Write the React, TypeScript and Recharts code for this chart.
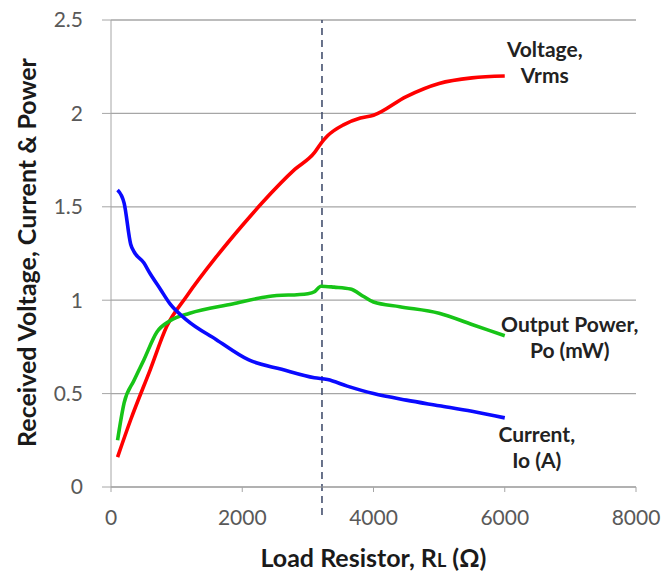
import React from 'react';
import { LineChart, Line, XAxis, YAxis, CartesianGrid, ReferenceLine, ReferenceDot, Label } from 'recharts';

// values (x = load resistor in ohms)
const voltageX = [100, 300, 600, 850, 1150, 1600, 2000, 2300, 2800, 3100, 3200, 3300, 3550, 3800, 4000, 4500, 5000, 5500, 6000];
const voltageY = [0.16, 0.36, 0.63, 0.86, 1.02, 1.23, 1.4, 1.52, 1.7, 1.79, 1.84, 1.88, 1.94, 1.975, 1.99, 2.09, 2.16, 2.19, 2.2];

const currentX = [100, 200, 300, 350, 500, 600, 750, 900, 1150, 1600, 2100, 2600, 3100, 3300, 3600, 4000, 4500, 5000, 5500, 6000];
const currentY = [1.59, 1.52, 1.3, 1.26, 1.2, 1.14, 1.06, 0.98, 0.895, 0.79, 0.68, 0.63, 0.585, 0.575, 0.54, 0.5, 0.465, 0.435, 0.405, 0.37];

const powerX = [100, 200, 350, 500, 700, 900, 1200, 1850, 2400, 3000, 3100, 3200, 3400, 3650, 3850, 4000, 4400, 5000, 5500, 6000];
const powerY = [0.25, 0.45, 0.57, 0.68, 0.83, 0.89, 0.93, 0.98, 1.02, 1.035, 1.045, 1.075, 1.07, 1.06, 1.02, 0.99, 0.965, 0.93, 0.87, 0.81];

const xTicks = [0, 2000, 4000, 6000, 8000];
const yTicks = [0, 0.5, 1, 1.5, 2, 2.5];
const markerX = 3215;

const zip = (xs: number[], ys: number[]) => xs.map((x, i) => ({ x, y: ys[i] }));
const voltage = zip(voltageX, voltageY);
const current = zip(currentX, currentY);
const power = zip(powerX, powerY);
const last = (d: { x: number; y: number }[]) => d[d.length - 1];

const FONT = 'Lato, "Open Sans", sans-serif';

// two-line annotation next to the end of a curve
const endNote = (lines: string[], dx: number, dy: number) => (props: any) => {
  const { viewBox } = props;
  const cx = viewBox.x + viewBox.width / 2 + dx;
  const cy = viewBox.y + viewBox.height / 2 + dy;
  return (
    <text x={cx} y={cy} textAnchor="middle" fontFamily={FONT} fontWeight={700} fontSize={21} fill="#222">
      {lines.map((l, i) => (
        <tspan key={i} x={cx} dy={i === 0 ? 0 : 26}>{l}</tspan>
      ))}
    </text>
  );
};

const App: React.FC = () => {
  return (
    <div style={{ position: 'absolute', left: 0, top: 0, width: 664, height: 575, background: '#fff' }}>
      <LineChart width={664} height={575} margin={{ top: 20, right: 28, bottom: 58, left: 0 }}>
        <CartesianGrid horizontal vertical={false} stroke="#a6a6a6" strokeWidth={1.3} />
        <XAxis
          type="number"
          dataKey="x"
          domain={[0, 8000]}
          ticks={xTicks}
          height={30}
          stroke="#a6a6a6"
          tickSize={5}
          tickMargin={18}
          tick={{ fill: '#595959', fontSize: 21, fontFamily: FONT }}
          allowDuplicatedCategory={false}
        >
          <Label
            content={(props: any) => {
              const vb = props.viewBox;
              return (
                <text x={vb.x + vb.width / 2} y={vb.y + 80} textAnchor="middle" fontFamily={FONT} fontWeight={700} fontSize={25} fill="#1a1a1a">
                  Load Resistor, R<tspan fontSize={18}>L</tspan> (Ω)
                </text>
              );
            }}
          />
        </XAxis>
        <YAxis
          type="number"
          domain={[0, 2.5]}
          ticks={yTicks}
          width={111}
          stroke="#a6a6a6"
          tickSize={9}
          tickMargin={19}
          tick={{ fill: '#595959', fontSize: 21, fontFamily: FONT }}
        >
          <Label
            content={(props: any) => {
              const vb = props.viewBox;
              const cy = vb.y + vb.height / 2 - 1;
              return (
                <text x={36} y={cy} transform={`rotate(-90, 36, ${cy})`} textAnchor="middle" fontFamily={FONT} fontWeight={700} fontSize={25} fill="#1a1a1a">
                  Received Voltage, Current &amp; Power
                </text>
              );
            }}
          />
        </YAxis>
        <ReferenceLine
          segment={[{ x: markerX, y: -0.15 }, { x: markerX, y: 2.5 }]}
          stroke="#44506e"
          strokeWidth={1.6}
          strokeDasharray="7 5"
          ifOverflow="visible"
        />
        <Line data={voltage} dataKey="y" type="monotone" stroke="#ff0000" strokeWidth={3.6} dot={false} isAnimationActive={false} />
        <Line data={power} dataKey="y" type="monotone" stroke="#17c417" strokeWidth={3.6} dot={false} isAnimationActive={false} />
        <Line data={current} dataKey="y" type="monotone" stroke="#0a0aff" strokeWidth={3.6} dot={false} isAnimationActive={false} />
        <ReferenceDot x={last(voltage).x} y={last(voltage).y} r={0} ifOverflow="visible" label={endNote(['Voltage,', 'Vrms'], 40, -19)} />
        <ReferenceDot x={last(power).x} y={last(power).y} r={0} ifOverflow="visible" label={endNote(['Output Power,', 'Po (mW)'], 65, -4)} />
        <ReferenceDot x={last(current).x} y={last(current).y} r={0} ifOverflow="visible" label={endNote(['Current,', 'Io (A)'], 32, 24)} />
      </LineChart>
    </div>
  );
};

export default App;
